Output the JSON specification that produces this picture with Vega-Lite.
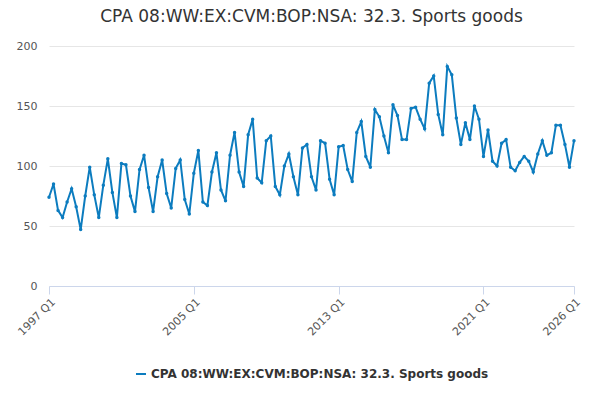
{
  "$schema": "https://vega.github.io/schema/vega-lite/v6.json",
  "autosize": {"type": "fit", "contains": "padding"},
  "width": 600,
  "height": 400,
  "padding": {"left": 15, "right": 18, "top": 8, "bottom": 20},
  "title": {"text": "CPA 08:WW:EX:CVM:BOP:NSA: 32.3. Sports goods", "font": "DejaVu Sans", "fontSize": 17, "fontWeight": "normal", "color": "#333", "offset": 14},
  "data": {"values": [
    {"q":"1997 Q1","v":74},{"q":"1997 Q2","v":85},{"q":"1997 Q3","v":63},{"q":"1997 Q4","v":57},
    {"q":"1998 Q1","v":70},{"q":"1998 Q2","v":81},{"q":"1998 Q3","v":66},{"q":"1998 Q4","v":47},
    {"q":"1999 Q1","v":75},{"q":"1999 Q2","v":99},{"q":"1999 Q3","v":76},{"q":"1999 Q4","v":57},
    {"q":"2000 Q1","v":84},{"q":"2000 Q2","v":106},{"q":"2000 Q3","v":78},{"q":"2000 Q4","v":57},
    {"q":"2001 Q1","v":102},{"q":"2001 Q2","v":101},{"q":"2001 Q3","v":75},{"q":"2001 Q4","v":62},
    {"q":"2002 Q1","v":97},{"q":"2002 Q2","v":109},{"q":"2002 Q3","v":82},{"q":"2002 Q4","v":62},
    {"q":"2003 Q1","v":91},{"q":"2003 Q2","v":105},{"q":"2003 Q3","v":77},{"q":"2003 Q4","v":65},
    {"q":"2004 Q1","v":98},{"q":"2004 Q2","v":105},{"q":"2004 Q3","v":72},{"q":"2004 Q4","v":60},
    {"q":"2005 Q1","v":94},{"q":"2005 Q2","v":113},{"q":"2005 Q3","v":70},{"q":"2005 Q4","v":67},
    {"q":"2006 Q1","v":95},{"q":"2006 Q2","v":111},{"q":"2006 Q3","v":80},{"q":"2006 Q4","v":71},
    {"q":"2007 Q1","v":109},{"q":"2007 Q2","v":128},{"q":"2007 Q3","v":95},{"q":"2007 Q4","v":83},
    {"q":"2008 Q1","v":126},{"q":"2008 Q2","v":139},{"q":"2008 Q3","v":90},{"q":"2008 Q4","v":86},
    {"q":"2009 Q1","v":121},{"q":"2009 Q2","v":125},{"q":"2009 Q3","v":83},{"q":"2009 Q4","v":76},
    {"q":"2010 Q1","v":100},{"q":"2010 Q2","v":110},{"q":"2010 Q3","v":91},{"q":"2010 Q4","v":76},
    {"q":"2011 Q1","v":115},{"q":"2011 Q2","v":118},{"q":"2011 Q3","v":91},{"q":"2011 Q4","v":80},
    {"q":"2012 Q1","v":121},{"q":"2012 Q2","v":119},{"q":"2012 Q3","v":89},{"q":"2012 Q4","v":76},
    {"q":"2013 Q1","v":116},{"q":"2013 Q2","v":117},{"q":"2013 Q3","v":97},{"q":"2013 Q4","v":87},
    {"q":"2014 Q1","v":128},{"q":"2014 Q2","v":137},{"q":"2014 Q3","v":108},{"q":"2014 Q4","v":99},
    {"q":"2015 Q1","v":147},{"q":"2015 Q2","v":141},{"q":"2015 Q3","v":125},{"q":"2015 Q4","v":111},
    {"q":"2016 Q1","v":151},{"q":"2016 Q2","v":142},{"q":"2016 Q3","v":122},{"q":"2016 Q4","v":122},
    {"q":"2017 Q1","v":148},{"q":"2017 Q2","v":149},{"q":"2017 Q3","v":139},{"q":"2017 Q4","v":131},
    {"q":"2018 Q1","v":169},{"q":"2018 Q2","v":175},{"q":"2018 Q3","v":143},{"q":"2018 Q4","v":126},
    {"q":"2019 Q1","v":183},{"q":"2019 Q2","v":176},{"q":"2019 Q3","v":140},{"q":"2019 Q4","v":118},
    {"q":"2020 Q1","v":136},{"q":"2020 Q2","v":122},{"q":"2020 Q3","v":150},{"q":"2020 Q4","v":139},
    {"q":"2021 Q1","v":108},{"q":"2021 Q2","v":130},{"q":"2021 Q3","v":104},{"q":"2021 Q4","v":100},
    {"q":"2022 Q1","v":119},{"q":"2022 Q2","v":122},{"q":"2022 Q3","v":99},{"q":"2022 Q4","v":96},
    {"q":"2023 Q1","v":103},{"q":"2023 Q2","v":108},{"q":"2023 Q3","v":104},{"q":"2023 Q4","v":95},
    {"q":"2024 Q1","v":110},{"q":"2024 Q2","v":121},{"q":"2024 Q3","v":109},{"q":"2024 Q4","v":111},
    {"q":"2025 Q1","v":134},{"q":"2025 Q2","v":134},{"q":"2025 Q3","v":118},{"q":"2025 Q4","v":99},
    {"q":"2026 Q1","v":121}
  ]},
  "mark": {"type": "line", "point": {"size": 12, "filled": true}, "strokeWidth": 2},
  "encoding": {
    "x": {
      "field": "q", "type": "ordinal", "sort": null,
      "scale": {"type": "point", "padding": 0},
      "axis": {"title": null, "values": ["1997 Q1","2005 Q1","2013 Q1","2021 Q1","2026 Q1"], "labelAngle": -45, "labelAlign": "right", "labelColor": "#555", "labelFont": "DejaVu Sans", "labelFontSize": 11, "grid": false, "domainColor": "#ccd6eb", "tickColor": "#ccd6eb", "tickSize": 8}
    },
    "y": {
      "field": "v", "type": "quantitative",
      "scale": {"domain": [0, 200]},
      "axis": {"title": null, "values": [0, 50, 100, 150, 200], "domain": false, "ticks": false, "gridColor": "#e6e6e6", "labelColor": "#555", "labelFont": "DejaVu Sans", "labelFontSize": 11, "labelPadding": 12}
    },
    "color": {
      "datum": "CPA 08:WW:EX:CVM:BOP:NSA: 32.3. Sports goods",
      "scale": {"range": ["#0c7cbf"]},
      "legend": {"orient": "bottom", "title": null, "offset": 30, "labelFont": "DejaVu Sans", "labelFontSize": 12, "labelFontWeight": "bold", "labelColor": "#333", "symbolType": "stroke", "symbolStrokeWidth": 2, "labelLimit": 500}
    }
  },
  "config": {"view": {"stroke": null}, "legend": {"layout": {"bottom": {"anchor": "middle"}}}}
}
